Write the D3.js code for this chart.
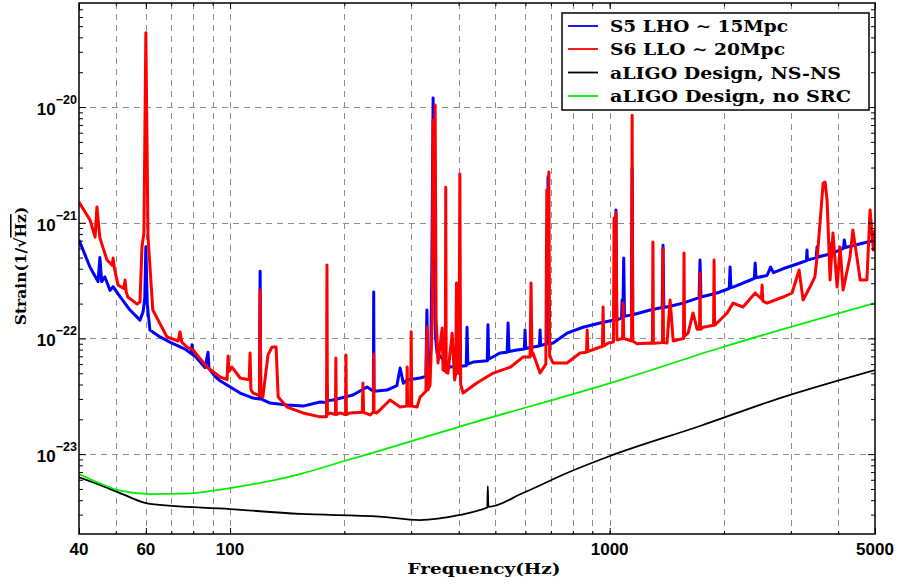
<!DOCTYPE html>
<html><head><meta charset="utf-8">
<script src="https://cdn.jsdelivr.net/npm/d3@7"></script>
<style>body{margin:0;background:#fff;}</style>
</head><body>
<svg id="c" width="898" height="585"></svg>
<script>
// ---- DATA: [frequency (Hz), strain (1/sqrt(Hz))] ----
const s5LHO = [[40,7.1e-22],[42.8,4.1e-22],[44.9,3.1e-22],[45.4,5.0e-22],[45.9,3.1e-22],[46.8,3.4e-22],[48.3,2.6e-22],[49.2,2.8e-22],[51.3,2.3e-22],[54.5,1.76e-22],[57.9,1.44e-22],[59.0,1.7e-22],[59.6,2.2e-22],[60.0,6.2e-22],[60.5,2.0e-22],[61.5,1.18e-22],[65.4,1.03e-22],[69.4,9.3e-23],[76.1,8.1e-23],[79.0,7.4e-23],[79.4,8.8e-23],[79.8,7.2e-23],[80.8,7.05e-23],[85.9,5.6e-23],[87.5,7.6e-23],[88.0,5.5e-23],[91.3,4.7e-23],[94.1,4.3e-23],[106.3,3.37e-23],[115,3.05e-23],[119.5,3.0e-23],[120,3.8e-22],[120.5,3.0e-23],[127.5,2.76e-23],[141.3,2.66e-23],[155.7,2.6e-23],[172.7,2.82e-23],[179.5,2.8e-23],[180,3.96e-23],[180.5,2.9e-23],[186.7,2.94e-23],[210.7,3.24e-23],[229.6,3.8e-23],[238.5,3.5e-23],[239,2.52e-22],[239.5,3.5e-23],[259,3.58e-23],[275,3.9e-23],[280.6,5.55e-23],[286,4.1e-23],[292.8,4.37e-23],[316.6,4.55e-23],[328,4.7e-23],[330,1.76e-22],[332,5.0e-23],[338,8.0e-23],[340,4.0e-22],[342.7,1.2e-20],[345,6.0e-22],[348,1.0e-22],[351,7.48e-23],[379.6,5.66e-23],[419,5.8e-23],[421,1.25e-22],[423,6.0e-23],[437,6.25e-23],[476,6.4e-23],[478,1.31e-22],[480,6.6e-23],[514,7.48e-23],[537,7.6e-23],[540,1.36e-22],[543,7.7e-23],[570,7.94e-23],[596,8.1e-23],[598.6,1.18e-22],[601,8.2e-23],[628,8.43e-23],[653,8.6e-23],[655.7,1.18e-22],[658,8.7e-23],[684,9.0e-23],[688,2.48e-21],[692,9.0e-23],[709.6,9.12e-23],[772,1.11e-22],[851,1.25e-22],[943.5,1.36e-22],[1034,1.45e-22],[1039,1.29e-21],[1044,1.45e-22],[1075,1.5e-22],[1078,2.15e-22],[1083,1.5e-22],[1089,4.95e-22],[1094,1.55e-22],[1141,1.6e-22],[1146,2.97e-21],[1151,1.6e-22],[1278,1.76e-22],[1375,1.85e-22],[1382,6.4e-22],[1389,1.85e-22],[1443,1.9e-22],[1561,2.02e-22],[1720,2.25e-22],[1730,4.76e-22],[1740,2.28e-22],[1918,2.47e-22],[2066,2.7e-22],[2076,4.14e-22],[2086,2.75e-22],[2114,2.78e-22],[2350,3.2e-22],[2405,3.3e-22],[2417,4.49e-22],[2430,3.35e-22],[2598,3.5e-22],[2654,4.14e-22],[2700,3.7e-22],[2861,4.0e-22],[3173,4.49e-22],[3300,4.7e-22],[3310,5.8e-22],[3320,4.75e-22],[3500,5.0e-22],[3517,6.17e-22],[3540,5.05e-22],[3830,5.4e-22],[3846,6.68e-22],[3870,5.47e-22],[4130,6.0e-22],[4150,7.08e-22],[4180,6.1e-22],[4550,6.55e-22],[5000,7.08e-22]];

const s6LLO = [[40,1.51e-21],[42.8,1.05e-21],[44.1,7.5e-22],[44.6,1.37e-21],[45.4,7.4e-22],[47.4,4.76e-22],[48.9,4.3e-22],[49.2,4.95e-22],[49.6,4.0e-22],[50.7,2.89e-22],[52.5,2.7e-22],[52.9,3.2e-22],[53.3,2.5e-22],[53.8,2.28e-22],[56.9,1.98e-22],[57.9,2.07e-22],[58.6,6.17e-22],[59.3,8.15e-22],[60.0,4.39e-20],[60.8,7.5e-22],[62.6,1.76e-22],[68.2,1.03e-22],[73.0,9.5e-23],[73.8,1.14e-22],[74.6,9.3e-23],[77.0,8.43e-23],[79.9,7.94e-23],[86.9,5.66e-23],[94.1,4.64e-23],[98.2,4.4e-23],[98.8,7.05e-23],[99.4,5.2e-23],[101.2,5.66e-23],[106.3,4.55e-23],[112.3,4.4e-23],[112.9,7.48e-23],[113.5,3.6e-23],[115,3.37e-23],[119.5,3.2e-23],[120,2.62e-22],[120.5,3.2e-23],[122,3.11e-23],[125.9,7.2e-23],[129,8.43e-23],[132.2,8.43e-23],[133.9,3.11e-23],[141.3,2.55e-23],[155.7,2.27e-23],[172.7,2.1e-23],[179.5,2.1e-23],[180,4.31e-22],[180.5,2.2e-23],[183.4,2.27e-23],[189.5,2.2e-23],[190,6.77e-23],[190.5,2.2e-23],[194.9,2.27e-23],[201.5,2.2e-23],[202,7.2e-23],[202.5,2.2e-23],[207.1,2.27e-23],[223,2.3e-23],[223.9,4.12e-23],[224.8,2.3e-23],[233.7,2.18e-23],[238.5,2.3e-23],[239,7.33e-23],[239.5,2.3e-23],[243.8,2.27e-23],[263.9,2.94e-23],[280.6,2.55e-23],[292,2.6e-23],[292.8,5.66e-23],[293.6,2.6e-23],[299,2.6e-23],[300,1.14e-22],[301,2.6e-23],[310.9,2.55e-23],[316.6,3.11e-23],[328,3.5e-23],[330,1.25e-22],[332,3.6e-23],[336.4,3.96e-23],[341,1.5e-22],[342.7,7.7e-21],[344.5,5e-22],[346.9,1.04e-20],[349,1.5e-22],[352.9,6.13e-23],[362.1,1.23e-22],[364,5.33e-23],[369,5.2e-23],[370,2.03e-21],[371,5.1e-23],[375,5.02e-23],[384.6,1.11e-22],[390.5,4.37e-23],[393,5e-23],[395,3.01e-22],[398,5e-23],[401,5e-23],[403,2.64e-21],[405,4e-23],[411,3.37e-23],[446.7,4.12e-23],[493.4,5.02e-23],[548.3,5.66e-23],[590.9,6.9e-23],[617,6.9e-23],[620.7,3.01e-22],[624,7.2e-23],[628,7.48e-23],[655.7,5.02e-23],[679,6e-23],[683,1.92e-21],[687,3e-22],[691.6,2.74e-21],[695,7e-23],[709.6,6.13e-23],[772,6.13e-23],[835.7,7.48e-23],[869,7.6e-23],[872.5,1.18e-22],[876,7.7e-23],[943.5,8.43e-23],[957,8.5e-23],[960.8,1.87e-22],[965,8.6e-23],[992,9.12e-23],[1023,9.3e-23],[1027,1.1e-21],[1033,2.0e-22],[1039,1.24e-21],[1045,9.7e-23],[1081,1.0e-22],[1085,2.02e-22],[1089,1.0e-22],[1142,9.5e-23],[1146,8.5e-21],[1150,9.5e-23],[1181,9e-23],[1278,9.12e-23],[1296,9.1e-23],[1300,6.8e-22],[1304,9.1e-23],[1333,9.12e-23],[1378,9.2e-23],[1382,6.0e-22],[1386,9.2e-23],[1416,9.12e-23],[1443,2.15e-22],[1470,9.5e-23],[1505,9.7e-23],[1565,1.0e-22],[1570,5.47e-22],[1575,1.05e-22],[1609,1.11e-22],[1658,1.66e-22],[1700,1.2e-22],[1725,1.2e-22],[1730,3.67e-22],[1735,1.2e-22],[1763,1.25e-22],[1878,1.3e-22],[1884,4.76e-22],[1890,1.3e-22],[1918,1.36e-22],[2039,1.66e-22],[2114,2.02e-22],[2246,1.87e-22],[2417,2.47e-22],[2510,2.2e-22],[2521,2.89e-22],[2532,2.1e-22],[2598,2.02e-22],[2861,2.28e-22],[3024,2.47e-22],[3155,3.9e-22],[3233,2.15e-22],[3370,2.78e-22],[3472,3.4e-22],[3535,5.81e-22],[3650,2.2e-21],[3694,2.25e-21],[3739,1.57e-21],[3808,3.2e-22],[3875,8.15e-22],[3973,2.78e-22],[4046,6.17e-22],[4120,2.62e-22],[4297,5.05e-22],[4372,8.65e-22],[4480,5.05e-22],[4570,3.2e-22],[4760,3.2e-22],[4853,1.29e-21],[4951,5.81e-22],[5000,8.65e-22]];

const aligoNSNS = [[40,6.3e-24],[45.4,5.41e-24],[51.3,4.61e-24],[61.5,3.71e-24],[100,3.35e-24],[153,3.04e-24],[248,2.88e-24],[316,2.69e-24],[403,2.98e-24],[474,3.44e-24],[476,3.46e-24],[477.5,5.3e-24],[479,3.5e-24],[591,4.61e-24],[772,6.87e-24],[1002,9.63e-24],[1730,1.75e-23],[2810,3.05e-23],[5000,5.33e-23]];

const aligoNoSRC = [[40,6.73e-24],[45.4,5.59e-24],[51.3,4.83e-24],[61.5,4.52e-24],[75,4.55e-24],[100,5.09e-24],[153,6.73e-24],[200,8.72e-24],[248,1.07e-23],[403,1.73e-23],[1065,4.37e-23],[1989,8.43e-23],[5000,2.02e-22]];

const seriesNames = ["S5 LHO \u223C 15Mpc","S6 LLO \u223C 20Mpc","aLIGO Design, NS-NS","aLIGO Design, no SRC"];
const seriesColors = ["#0000ff","#ff0000","#000000","#00ee00"];
const xTickValues = [40,60,100,1000,5000];
const yTickValues = [1e-23,1e-22,1e-21,1e-20];
const yTickExponents = ["\u221223","\u221222","\u221221","\u221220"];
const xTitle = "Frequency(Hz)";

// ---- LAYOUT ----
const L=79, R=875, T=3, B=534;
const svg=d3.select("#c");
const x=d3.scaleLog().domain([40,5000]).range([L,R]);
const y=d3.scaleLog().domain([2.04e-24,7.93e-20]).range([B,T]);

const xMinor=[]; [10,100,1000].forEach(d=>{for(let k=1;k<10;k++){const v=k*d; if(v>40&&v<5000) xMinor.push(v);}});
const yMinor=[]; [1e-24,1e-23,1e-22,1e-21,1e-20].forEach(d=>{for(let k=2;k<10;k++){const v=k*d; if(v>2.04e-24&&v<7.93e-20) yMinor.push(v);}});

// grid
const grid=svg.append("g").attr("stroke","#8c8c8c").attr("stroke-width",1).attr("stroke-dasharray","6,5");
grid.selectAll(".gx").data(xMinor).enter().append("line")
  .attr("x1",d=>Math.round(x(d))+0.5).attr("x2",d=>Math.round(x(d))+0.5).attr("y1",T).attr("y2",B);
grid.selectAll(".gy").data(yTickValues).enter().append("line")
  .attr("y1",d=>Math.round(y(d))+0.5).attr("y2",d=>Math.round(y(d))+0.5).attr("x1",L).attr("x2",R);

// lines
svg.append("clipPath").attr("id","clp").append("rect").attr("x",L).attr("y",T).attr("width",R-L).attr("height",B-T);
const lin=d3.line().x(d=>x(d[0])).y(d=>y(d[1]));
const smooth=d3.line().x(d=>x(d[0])).y(d=>y(d[1])).curve(d3.curveMonotoneX);
const pg=svg.append("g").attr("clip-path","url(#clp)").attr("fill","none").attr("stroke-linejoin","round");
pg.append("path").datum(s5LHO).attr("d",lin).attr("stroke",seriesColors[0]).attr("stroke-width",3);
pg.append("path").datum(s6LLO).attr("d",lin).attr("stroke",seriesColors[1]).attr("stroke-width",3);
pg.append("path").datum(aligoNSNS).attr("d",smooth).attr("stroke",seriesColors[2]).attr("stroke-width",1.8);
pg.append("path").datum(aligoNoSRC).attr("d",smooth).attr("stroke",seriesColors[3]).attr("stroke-width",1.8);

// axes (ticks)
function styleAxis(g){g.select(".domain").remove(); g.selectAll("line").attr("stroke","#000").attr("stroke-width",1);}
svg.append("g").attr("transform",`translate(0,${B})`).call(d3.axisBottom(x).tickValues(xMinor).tickSize(-3).tickFormat("")).call(styleAxis);
svg.append("g").attr("transform",`translate(0,${T})`).call(d3.axisTop(x).tickValues(xMinor).tickSize(-3).tickFormat("")).call(styleAxis);
svg.append("g").attr("transform",`translate(0,${B})`).call(d3.axisBottom(x).tickValues(xTickValues).tickSize(-6).tickFormat("")).call(styleAxis);
svg.append("g").attr("transform",`translate(0,${T})`).call(d3.axisTop(x).tickValues(xTickValues).tickSize(-6).tickFormat("")).call(styleAxis);
svg.append("g").attr("transform",`translate(${L},0)`).call(d3.axisLeft(y).tickValues(yMinor).tickSize(-4).tickFormat("")).call(styleAxis);
svg.append("g").attr("transform",`translate(${R},0)`).call(d3.axisRight(y).tickValues(yMinor).tickSize(-4).tickFormat("")).call(styleAxis);
svg.append("g").attr("transform",`translate(${L},0)`).call(d3.axisLeft(y).tickValues(yTickValues).tickSize(-7).tickFormat("")).call(styleAxis);
svg.append("g").attr("transform",`translate(${R},0)`).call(d3.axisRight(y).tickValues(yTickValues).tickSize(-7).tickFormat("")).call(styleAxis);

// frame
svg.append("rect").attr("x",L).attr("y",T).attr("width",R-L).attr("height",B-T).attr("fill","none").attr("stroke","#000").attr("stroke-width",1.5);

// x tick labels
svg.append("g").selectAll("text").data(xTickValues).enter().append("text")
  .attr("x",d=>x(d)).attr("y",B+21).attr("text-anchor","middle")
  .attr("font-family","'Liberation Sans',Arial,sans-serif").attr("font-weight","bold").attr("font-size",17)
  .text(d=>d3.format("d")(d));

// y tick labels
const yl=svg.append("g").selectAll("text").data(yTickValues).enter().append("text")
  .attr("x",77).attr("y",d=>y(d)+8).attr("text-anchor","end")
  .attr("font-family","'Liberation Sans',Arial,sans-serif").attr("font-weight","bold").attr("font-size",17);
yl.append("tspan").text("10");
yl.append("tspan").attr("dy",-11).attr("font-size",12.5).text((d,i)=>yTickExponents[i]);

// axis titles
svg.append("text").attr("x",484).attr("y",574).attr("text-anchor","middle")
  .attr("font-family","'DejaVu Serif',serif").attr("font-weight","bold").attr("font-size",15.5)
  .attr("textLength",153).attr("lengthAdjust","spacingAndGlyphs").text(xTitle);
const yt=svg.append("text").attr("transform","translate(26,266) rotate(-90)").attr("text-anchor","middle")
  .attr("font-family","'DejaVu Serif',serif").attr("font-weight","bold").attr("font-size",15.5);
yt.append("tspan").text("Strain(1/\u221A");
yt.append("tspan").attr("text-decoration","overline").text("Hz");
yt.append("tspan").text(")");

// legend
const lg=svg.append("g");
lg.append("rect").attr("x",562).attr("y",13).attr("width",307).attr("height",97).attr("fill","#fff").attr("stroke","#000").attr("stroke-width",1.5);
const rowsY=[26,49,72.5,96];
const textW=[178,175,231,241];
seriesNames.forEach((n,i)=>{
  lg.append("line").attr("x1",568).attr("x2",598).attr("y1",rowsY[i]).attr("y2",rowsY[i]).attr("stroke",seriesColors[i]).attr("stroke-width",1.8);
  lg.append("text").attr("x",610).attr("y",rowsY[i]+6).attr("font-family","'DejaVu Serif',serif").attr("font-weight","bold")
    .attr("font-size",16.5).attr("textLength",textW[i]).attr("lengthAdjust","spacingAndGlyphs").text(n);
});
</script>
</body></html>
